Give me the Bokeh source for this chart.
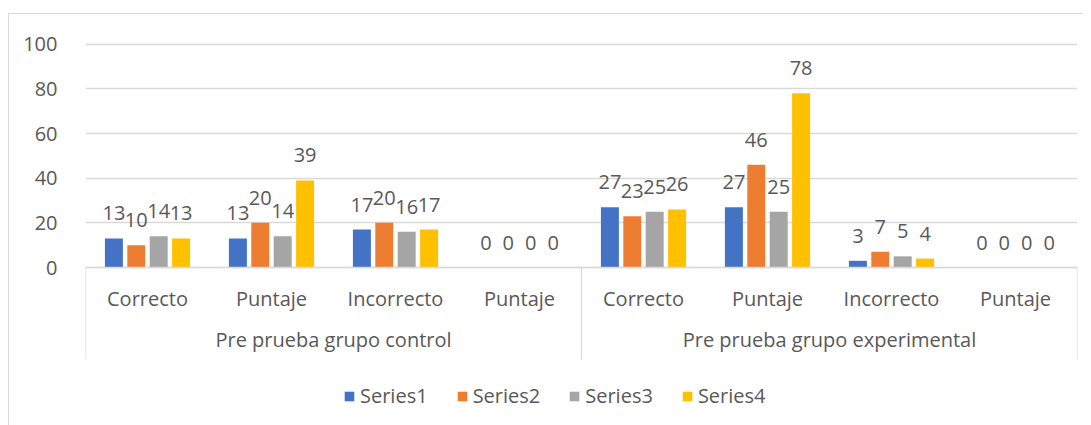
from bokeh.plotting import figure
from bokeh.models import FactorRange, ColumnDataSource, FixedTicker, Legend
from bokeh.transform import dodge
from bokeh.core.properties import value
from bokeh.embed import file_html
from bokeh.resources import INLINE

groups = ["Pre prueba grupo control", "Pre prueba grupo experimental"]
categories = ["Correcto", "Puntaje", "Incorrecto", "Puntaje"]
series_names = ["Series1", "Series2", "Series3", "Series4"]
series1 = [13, 13, 17, 0, 27, 27, 3, 0]
series2 = [10, 20, 20, 0, 23, 46, 7, 0]
series3 = [14, 14, 16, 0, 25, 25, 5, 0]
series4 = [13, 39, 17, 0, 26, 78, 4, 0]
colors = ["#4472C4", "#ED7D31", "#A5A5A5", "#FFC000"]
y_ticks = [0, 20, 40, 60, 80, 100]

FONT = "Open Sans"
TXT = "#595959"
GRID = "#d9d9d9"

# unique factor keys (a repeated sub-category gets an invisible zero-width mark)
factors = []
for g in groups:
    seen = {}
    for c in categories:
        k = c + "\u200b" * seen.get(c, 0)
        seen[c] = seen.get(c, 0) + 1
        factors.append((g, k))

data = {"x": factors}
for name, vals in zip(series_names, [series1, series2, series3, series4]):
    data[name] = vals
    data[name + "_lbl"] = [str(v) for v in vals]
src = ColumnDataSource(data)

p = figure(
    x_range=FactorRange(*factors, group_padding=0, factor_padding=0,
                        subgroup_padding=0, range_padding=0),
    y_range=(-71.2, 113.3),
    width=1075, height=412,
    output_backend="svg", toolbar_location=None,
    min_border_left=76, min_border_right=7, min_border_top=0, min_border_bottom=0,
)
p.styles = {"margin-top": "13px", "margin-left": "8px",
            "border-top": "1px solid #d9d9d9",
            "border-left": "1px solid #d9d9d9"}
p.outline_line_color = None
p.background_fill_color = "white"
p.border_fill_color = "white"

offsets = [-0.271, -0.0904, 0.0904, 0.271]
bar_w = 0.145
items = []
for name, col, off in zip(series_names, colors, offsets):
    r = p.vbar(x=dodge("x", off, range=p.x_range), top=name, width=bar_w,
               source=src, fill_color=col, line_color=None)
    items.append((name, [r]))
    p.text(x=dodge("x", off, range=p.x_range), y=name, text=name + "_lbl",
           source=src, text_align="center", text_baseline="middle",
           y_offset=-25, text_font=value(FONT), text_font_size="20px",
           text_color=TXT)

# category box lines below the axis
for fx, d in [(factors[0], -0.5), (factors[4], -0.5), (factors[7], 0.5)]:
    s = ColumnDataSource({"x": [fx], "y0": [0], "y1": [-41.2]})
    p.segment(x0=dodge("x", d, range=p.x_range), x1=dodge("x", d, range=p.x_range),
              y0="y0", y1="y1", source=s, line_color=GRID, line_width=1.3)

# axes
p.yaxis.ticker = FixedTicker(ticks=y_ticks)
p.yaxis.axis_line_color = None
p.yaxis.major_tick_line_color = None
p.yaxis.minor_tick_line_color = None
p.yaxis.major_label_text_font = FONT
p.yaxis.major_label_text_font_size = "20px"
p.yaxis.major_label_text_color = TXT
p.yaxis.major_label_standoff = 22

p.ygrid.ticker = FixedTicker(ticks=y_ticks)
p.ygrid.grid_line_color = GRID
p.ygrid.grid_line_width = 1.3
p.xgrid.grid_line_color = None

xa = p.xaxis[0]
xa.fixed_location = 0
xa.axis_line_color = GRID
xa.axis_line_width = 1.3
xa.major_tick_line_color = None
xa.minor_tick_line_color = None
xa.major_label_text_font = FONT
xa.major_label_text_font_size = "20px"
xa.major_label_text_color = TXT
xa.major_label_standoff = 11
xa.group_text_font = FONT
xa.group_text_font_size = "20px"
xa.group_text_font_style = "normal"
xa.group_text_color = TXT
xa.group_text_baseline = "middle"
if "separator_line_color" in xa.properties():
    xa.separator_line_color = None

legend = Legend(items=items, orientation="horizontal", location=(258, 17),
                label_text_font=FONT, label_text_font_size="20px",
                label_text_color=TXT, glyph_width=12, glyph_height=12,
                label_standoff=5, spacing=28, padding=5, margin=0,
                border_line_color=None, background_fill_alpha=0)
p.add_layout(legend, "center")

open("out.html", "w").write(file_html(p, INLINE))
